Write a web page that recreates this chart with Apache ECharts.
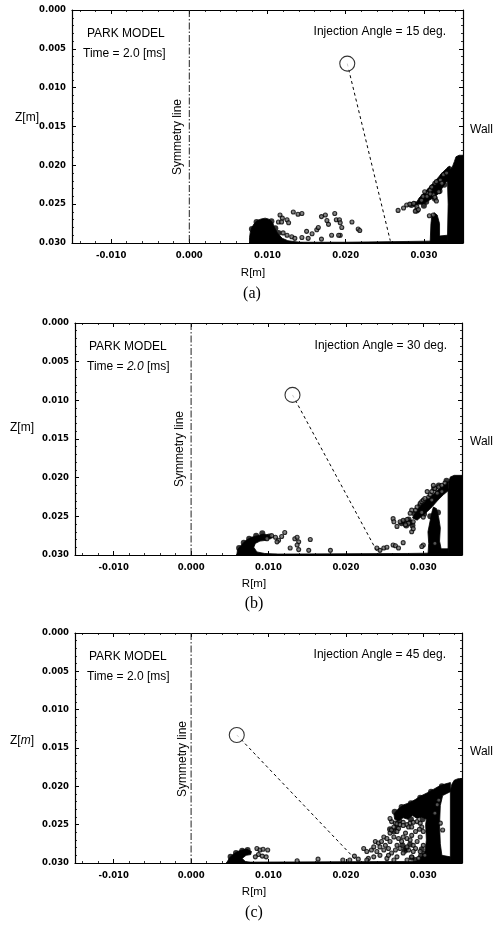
<!DOCTYPE html>
<html><head><meta charset="utf-8">
<script src="https://cdn.jsdelivr.net/npm/echarts@6/dist/echarts.min.js"></script>
<style>html,body{margin:0;padding:0;background:#fff}#c{width:497px;height:926px}</style>
</head><body><div id="c"></div>
<script>
// ---------- data (R [m], Z [m]) ----------
const panelLabels = ['(a)', '(b)', '(c)'];
const injectionAngles = [15, 30, 45];
const rRange = [-0.015, 0.035];
const zRange = [0.000, 0.030];
const zInterval = 0.005;
const symmetryLine = [[0.0, 0.0], [0.0, 0.030]];

// nozzle (open circle) positions
const nozzleA = [[0.0202, 0.0069]];
const nozzleB = [[0.0131, 0.0093]];
const nozzleC = [[0.0059, 0.0133]];
// spray axis (dashed) : nozzle -> wall impingement point
const sprayAxisA = [[0.0202, 0.0069], [0.0257, 0.0297]];
const sprayAxisB = [[0.0131, 0.0093], [0.0240, 0.0295]];
const sprayAxisC = [[0.0059, 0.0133], [0.0213, 0.0296]];

// dense droplet regions (outline vertices)
const denseA = [
  [[0.0077,0.0300],[0.0077,0.0293],[0.0078,0.0286],[0.0080,0.0280],[0.0083,0.0275],[0.0087,0.0271],[0.0092,0.0269],[0.0097,0.0268],[0.0101,0.0269],[0.0104,0.0271],[0.0107,0.0275],[0.0109,0.0280],[0.0112,0.0286],[0.0115,0.0290],[0.0119,0.0294],[0.0126,0.0297],[0.0140,0.0299],[0.0145,0.0300]],
  [[0.0077,0.0300],[0.0077,0.0299],[0.0200,0.0299],[0.0280,0.0298],[0.0350,0.0297],[0.0350,0.0300]],
  [[0.0289,0.0250],[0.0294,0.0242],[0.0300,0.0236],[0.0306,0.0229],[0.0312,0.0223],[0.0318,0.0216],[0.0324,0.0209],[0.0329,0.0204],[0.0333,0.0201],[0.0333,0.0218],[0.0328,0.0222],[0.0323,0.0230],[0.0318,0.0237],[0.0312,0.0242],[0.0305,0.0246],[0.0298,0.0250]],
  [[0.0308,0.0300],[0.0309,0.0275],[0.0310,0.0266],[0.0313,0.0261],[0.0317,0.0264],[0.0320,0.0275],[0.0320,0.0291],[0.0330,0.0290],[0.0330,0.0300]],
  [[0.0330,0.0300],[0.0331,0.0250],[0.0330,0.0215],[0.0332,0.0207],[0.0336,0.0203],[0.0339,0.0195],[0.0341,0.0189],[0.0345,0.0187],[0.0350,0.0187],[0.0350,0.0300]]
];
const denseB = [
  [[0.0059,0.0300],[0.0060,0.0293],[0.0065,0.0287],[0.0071,0.0281],[0.0078,0.0277],[0.0086,0.0275],[0.0093,0.0273],[0.0100,0.0274],[0.0104,0.0277],[0.0097,0.0281],[0.0089,0.0282],[0.0083,0.0285],[0.0081,0.0290],[0.0085,0.0296],[0.0095,0.0298],[0.0110,0.0299],[0.0115,0.0300]],
  [[0.0059,0.0300],[0.0059,0.0299],[0.0280,0.0298],[0.0350,0.0297],[0.0350,0.0300]],
  [[0.0286,0.0252],[0.0292,0.0242],[0.0299,0.0234],[0.0306,0.0227],[0.0313,0.0221],[0.0320,0.0215],[0.0326,0.0210],[0.0332,0.0205],[0.0332,0.0217],[0.0326,0.0222],[0.0319,0.0229],[0.0312,0.0237],[0.0305,0.0244],[0.0298,0.0250],[0.0292,0.0255]],
  [[0.0306,0.0300],[0.0307,0.0285],[0.0306,0.0270],[0.0309,0.0255],[0.0311,0.0245],[0.0313,0.0238],[0.0317,0.0240],[0.0320,0.0252],[0.0322,0.0265],[0.0321,0.0282],[0.0323,0.0292],[0.0332,0.0292],[0.0332,0.0300]],
  [[0.0332,0.0300],[0.0332,0.0215],[0.0333,0.0205],[0.0335,0.0199],[0.0340,0.0197],[0.0350,0.0197],[0.0350,0.0300]]
];
const denseC = [
  [[0.0046,0.0300],[0.0049,0.0294],[0.0054,0.0289],[0.0060,0.0285],[0.0066,0.0283],[0.0072,0.0282],[0.0078,0.0285],[0.0077,0.0289],[0.0071,0.0290],[0.0066,0.0294],[0.0070,0.0298],[0.0080,0.0300]],
  [[0.0046,0.0300],[0.0046,0.0299],[0.0280,0.0298],[0.0350,0.0297],[0.0350,0.0300]],
  [[0.0262,0.0236],[0.0268,0.0229],[0.0275,0.0224],[0.0283,0.0221],[0.0290,0.0217],[0.0298,0.0212],[0.0306,0.0208],[0.0313,0.0204],[0.0320,0.0200],[0.0328,0.0197],[0.0335,0.0195],[0.0335,0.0207],[0.0325,0.0212],[0.0322,0.0225],[0.0321,0.0250],[0.0322,0.0275],[0.0324,0.0290],[0.0335,0.0292],[0.0335,0.0300],[0.0288,0.0300],[0.0296,0.0294],[0.0302,0.0287],[0.0304,0.0270],[0.0303,0.0250],[0.0304,0.0243],[0.0298,0.0240],[0.0292,0.0242],[0.0286,0.0238],[0.0280,0.0243],[0.0274,0.0241],[0.0268,0.0245],[0.0263,0.0243]],
  [[0.0335,0.0300],[0.0335,0.0205],[0.0337,0.0197],[0.0340,0.0192],[0.0345,0.0190],[0.0350,0.0190],[0.0350,0.0300]]
];

// droplet clumps (filled)
const clumpsA = [[0.0297,0.0244],[0.0305,0.0236],[0.0312,0.0228],[0.0318,0.0222],[0.0324,0.0214],[0.0300,0.0252],[0.0314,0.0243],[0.0326,0.0225],[0.0284,0.0251],[0.0291,0.0258],
  [0.0080,0.0282],[0.0086,0.0273],[0.0105,0.0272],[0.0110,0.0281],[0.0114,0.0287],[0.0289,0.0250],[0.0303,0.0247],[0.0320,0.0233],[0.0329,0.0217],[0.0333,0.0205],[0.0310,0.0232]];
const clumpsB = [[0.0275,0.0257],[0.0281,0.0254],[0.0286,0.0262],[0.0278,0.0262],[0.0301,0.0247],[0.0320,0.0210],[0.0314,0.0214],[0.0296,0.0236],
  [0.0062,0.0291],[0.0068,0.0284],[0.0075,0.0279],[0.0084,0.0275],[0.0092,0.0272],[0.0101,0.0276],[0.0289,0.0247],[0.0307,0.0231],[0.0322,0.0219],[0.0330,0.0204],[0.0309,0.0250],[0.0319,0.0245],[0.0272,0.0259],[0.0283,0.0258]];
const clumpsC = [[0.0257,0.0256],[0.0262,0.0259],[0.0266,0.0254],[0.0273,0.0277],[0.0278,0.0281],[0.0283,0.0276],[0.0276,0.0284],[0.0298,0.0282],[0.0302,0.0288],[0.0297,0.0291],[0.0290,0.0296],[0.0285,0.0293],
  [0.0263,0.0233],[0.0272,0.0227],[0.0284,0.0222],[0.0296,0.0215],[0.0310,0.0207],[0.0324,0.0200],[0.0269,0.0245],[0.0284,0.0243],[0.0299,0.0243],[0.0051,0.0292],[0.0058,0.0287],[0.0066,0.0284],[0.0073,0.0283]];

// individual droplets
const dropsA = [
  [0.0116,0.0264],[0.0119,0.0268],[0.0114,0.0273],[0.0118,0.0273],[0.0133,0.0260],[0.0139,0.0263],[0.0144,0.0262],[0.0125,0.0270],[0.0127,0.0274],
  [0.0131,0.0292],[0.0135,0.0294],[0.0144,0.0293],[0.0150,0.0285],[0.0152,0.0294],[0.0157,0.0288],[0.0163,0.0283],[0.0165,0.0280],
  [0.0169,0.0266],[0.0174,0.0264],[0.0176,0.0271],[0.0178,0.0276],[0.0186,0.0262],[0.0188,0.0270],[0.0192,0.0270],[0.0193,0.0274],
  [0.0195,0.0280],[0.0193,0.0290],[0.0182,0.0290],[0.0191,0.0290],[0.0169,0.0295],[0.0208,0.0273],[0.0216,0.0282],[0.0218,0.0284],
  [0.0125,0.0290],[0.0120,0.0287],
  [0.0267,0.0258],[0.0274,0.0255],[0.0278,0.0251],[0.0282,0.0250],[0.0287,0.0249],[0.0291,0.0253],[0.0289,0.0259],[0.0293,0.0257],
  [0.0297,0.0245],[0.0299,0.0240],[0.0304,0.0236],[0.0308,0.0232],[0.0310,0.0228],[0.0314,0.0223],[0.0316,0.0221],[0.0321,0.0219],
  [0.0323,0.0223],[0.0319,0.0234],[0.0312,0.0238],[0.0304,0.0240],[0.0301,0.0234],[0.0308,0.0237],[0.0314,0.0241],[0.0316,0.0246],
  [0.0307,0.0265],[0.0312,0.0264],[0.0325,0.0212],[0.0329,0.0210]
];
const dropsB = [
  [0.0098,0.0279],[0.0104,0.0275],[0.0109,0.0277],[0.0113,0.0281],[0.0117,0.0276],[0.0121,0.0271],[0.0111,0.0283],[0.0134,0.0279],
  [0.0137,0.0277],[0.0139,0.0283],[0.0137,0.0287],[0.0139,0.0293],[0.0128,0.0291],[0.0154,0.0280],[0.0152,0.0294],[0.0180,0.0294],
  [0.0261,0.0253],[0.0262,0.0257],[0.0266,0.0263],[0.0270,0.0257],[0.0274,0.0255],[0.0279,0.0254],[0.0281,0.0259],[0.0277,0.0261],
  [0.0285,0.0270],[0.0287,0.0257],[0.0287,0.0266],[0.0261,0.0287],[0.0264,0.0288],[0.0274,0.0284],[0.0268,0.0291],[0.0249,0.0291],
  [0.0253,0.0290],[0.0244,0.0294],[0.0240,0.0291],[0.0290,0.0242],[0.0285,0.0242],[0.0283,0.0246],[0.0292,0.0238],[0.0296,0.0233],
  [0.0298,0.0231],[0.0300,0.0229],[0.0302,0.0227],[0.0307,0.0225],[0.0309,0.0222],[0.0305,0.0218],[0.0311,0.0218],[0.0315,0.0214],
  [0.0320,0.0212],[0.0324,0.0210],[0.0328,0.0207],[0.0313,0.0210],[0.0318,0.0220],[0.0324,0.0218],[0.0311,0.0229],[0.0298,0.0245],
  [0.0300,0.0251],[0.0300,0.0287],[0.0298,0.0289],[0.0315,0.0285]
];
const dropsC = [
  [0.0085,0.0281],[0.0089,0.0283],[0.0093,0.0282],[0.0099,0.0283],[0.0087,0.0289],[0.0092,0.0291],[0.0097,0.0292],[0.0083,0.0292],
  [0.0164,0.0295],[0.0137,0.0297],[0.0196,0.0296],[0.0205,0.0296],[0.0211,0.0291],[0.0216,0.0295],
  [0.0223,0.0281],[0.0227,0.0285],[0.0233,0.0283],[0.0236,0.0279],[0.0240,0.0285],[0.0238,0.0272],[0.0242,0.0274],[0.0244,0.0290],
  [0.0229,0.0294],[0.0227,0.0296],[0.0249,0.0266],[0.0253,0.0268],[0.0257,0.0261],[0.0259,0.0257],[0.0262,0.0253],[0.0264,0.0248],
  [0.0259,0.0246],[0.0257,0.0242],[0.0266,0.0249],[0.0270,0.0250],[0.0274,0.0247],[0.0279,0.0250],[0.0283,0.0248],[0.0268,0.0255],
  [0.0274,0.0251],[0.0281,0.0253],[0.0285,0.0253],[0.0287,0.0247],[0.0292,0.0246],[0.0296,0.0248],[0.0285,0.0264],[0.0279,0.0268],
  [0.0272,0.0272],[0.0266,0.0277],[0.0264,0.0283],[0.0259,0.0287],[0.0255,0.0281],[0.0253,0.0294],[0.0266,0.0292],[0.0274,0.0287],
  [0.0281,0.0283],[0.0287,0.0277],[0.0292,0.0272],[0.0296,0.0266],[0.0300,0.0259],[0.0298,0.0253],[0.0295,0.0256],[0.0290,0.0259],
  [0.0268,0.0268],[0.0262,0.0266],[0.0249,0.0283],[0.0246,0.0272],[0.0251,0.0277],[0.0277,0.0261],[0.0283,0.0270],[0.0290,0.0281],
  [0.0296,0.0285],[0.0300,0.0277],[0.0302,0.0290],[0.0294,0.0294],[0.0285,0.0292],[0.0279,0.0296],[0.0262,0.0296],[0.0255,0.0290],
  [0.0244,0.0279],[0.0236,0.0292],[0.0257,0.0272],[0.0270,0.0281],[0.0279,0.0279],[0.0287,0.0285],[0.0274,0.0266],[0.0266,0.0259],
  [0.0320,0.0218],[0.0318,0.0224],[0.0322,0.0248],[0.0325,0.0257],[0.0315,0.0235]
];

// ---------- layout ----------
const grids = [
  {left: 72, top: 10, width: 391, height: 233},
  {left: 75, top: 323, width: 387, height: 232},
  {left: 75, top: 633, width: 387, height: 230}
];
const panels = [
  {dense: denseA, clumps: clumpsA, drops: dropsA, nozzle: nozzleA, axis: sprayAxisA},
  {dense: denseB, clumps: clumpsB, drops: dropsB, nozzle: nozzleB, axis: sprayAxisB},
  {dense: denseC, clumps: clumpsC, drops: dropsC, nozzle: nozzleC, axis: sprayAxisC}
];

const tickFont = {fontFamily: 'DejaVu Sans', fontWeight: 'bold', fontSize: 8.5, color: '#000'};
const lineBlack = {lineStyle: {color: '#000', width: 1.2}};

const xAxes = [], yAxes = [], series = [];
grids.forEach((g, i) => {
  ['bottom', 'top'].forEach(pos => xAxes.push({
    type: 'value', gridIndex: i, position: pos, min: rRange[0], max: rRange[1], splitNumber: 5,
    axisLine: {show: true, onZero: false, ...lineBlack},
    axisTick: {show: true, inside: true, length: 4, lineStyle: {color: '#000', width: 1}},
    minorTick: {show: true, splitNumber: 5, length: 2, lineStyle: {color: '#000', width: 0.8}},
    splitLine: {show: false},
    axisLabel: {show: pos === 'bottom', showMinLabel: false, showMaxLabel: false, margin: 8,
      formatter: v => v.toFixed(3), ...tickFont}
  }));
  ['left', 'right'].forEach(pos => yAxes.push({
    type: 'value', gridIndex: i, position: pos, inverse: true, min: zRange[0], max: zRange[1], interval: zInterval,
    axisLine: {show: true, onZero: false, ...lineBlack},
    axisTick: {show: true, inside: true, length: 4, lineStyle: {color: '#000', width: 1}},
    minorTick: {show: true, splitNumber: 5, length: 2, lineStyle: {color: '#000', width: 0.8}},
    splitLine: {show: false},
    axisLabel: {show: pos === 'left', margin: 6, formatter: v => v.toFixed(3), ...tickFont}
  }));
  const p = panels[i];
  const ax = {xAxisIndex: 2 * i, yAxisIndex: 2 * i};
  series.push({
    type: 'custom', ...ax, silent: true, z: 2,
    data: p.dense.map(poly => poly[0]),
    renderItem: (params, api) => {
      const poly = p.dense[params.dataIndex];
      return {type: 'polygon', shape: {points: poly.map(v => api.coord(v))},
        style: {fill: '#000', stroke: '#000', lineWidth: 0.8}};
    }
  });
  series.push({type: 'scatter', ...ax, silent: true, z: 3, symbol: 'circle', symbolSize: 6,
    itemStyle: {color: '#000'}, data: p.clumps});
  series.push({type: 'scatter', ...ax, silent: true, z: 4, symbol: 'circle', symbolSize: 4,
    itemStyle: {color: '#666', borderColor: '#000', borderWidth: 1.1}, data: p.drops});
  series.push({type: 'line', ...ax, silent: true, z: 3, symbol: 'none', data: symmetryLine,
    lineStyle: {color: '#222', width: 1, type: [7, 2, 1.5, 2]}});
  series.push({type: 'line', ...ax, silent: true, z: 3, symbol: 'none', data: p.axis,
    lineStyle: {color: '#000', width: 1, type: [3, 3]}});
  series.push({type: 'scatter', ...ax, silent: true, z: 6, symbol: 'circle', symbolSize: 15,
    itemStyle: {color: '#fff', borderColor: '#000', borderWidth: 1.1}, data: p.nozzle});
});

// ---------- annotations ----------
const sans = 'Liberation Sans';
const txt = (x, y, text, o = {}) => ({type: 'text', x, y, silent: true, z: 10,
  style: Object.assign({text, fill: '#000', font: `12px "${sans}"`, textAlign: 'left', textVerticalAlign: 'middle'}, o)});
const annotLayout = [
  {park: [87, 34], time: [83, 54], inj: [446, 32], sym: [178, 137], z: [15, 118], wall: [470, 130], r: [253, 273], lab: [252, 294]},
  {park: [89, 347], time: [87, 367], inj: [447, 346], sym: [180, 449], z: [10, 428], wall: [470, 442], r: [254, 584], lab: [254, 604]},
  {park: [89, 657], time: [87, 677], inj: [446, 655], sym: [183, 759], z: [10, 741], wall: [470, 752], r: [254, 892], lab: [254, 913]}
];
const graphic = [];
annotLayout.forEach((a, i) => {
  graphic.push(txt(a.park[0], a.park[1], 'PARK MODEL'));
  graphic.push(txt(a.time[0], a.time[1], i === 1 ? 'Time = {i|2.0} [ms]' : 'Time = 2.0 [ms]',
    {rich: {i: {font: `italic 12px "${sans}"`, fill: '#000'}}}));
  graphic.push(txt(a.inj[0], a.inj[1], 'Injection Angle = ' + injectionAngles[i] + ' deg.', {textAlign: 'right'}));
  graphic.push(Object.assign(txt(a.sym[0], a.sym[1], 'Symmetry line', {textAlign: 'center'}), {rotation: Math.PI / 2}));
  graphic.push(txt(a.z[0], a.z[1], i === 2 ? 'Z[{i|m}]' : 'Z[m]',
    {rich: {i: {font: `italic 12px "${sans}"`, fill: '#000'}}}));
  graphic.push(txt(a.wall[0], a.wall[1], 'Wall'));
  graphic.push(txt(a.r[0], a.r[1], 'R[m]', {textAlign: 'center', font: `11.5px "${sans}"`}));
  graphic.push(txt(a.lab[0], a.lab[1], panelLabels[i], {textAlign: 'center', font: '16px "Liberation Serif"'}));
});

const chart = echarts.init(document.getElementById('c'), null, {renderer: 'canvas'});
chart.setOption({
  animation: false,
  backgroundColor: '#fff',
  grid: grids.map(g => Object.assign({show: false}, g)),
  xAxis: xAxes,
  yAxis: yAxes,
  series,
  graphic
});
</script></body></html>
